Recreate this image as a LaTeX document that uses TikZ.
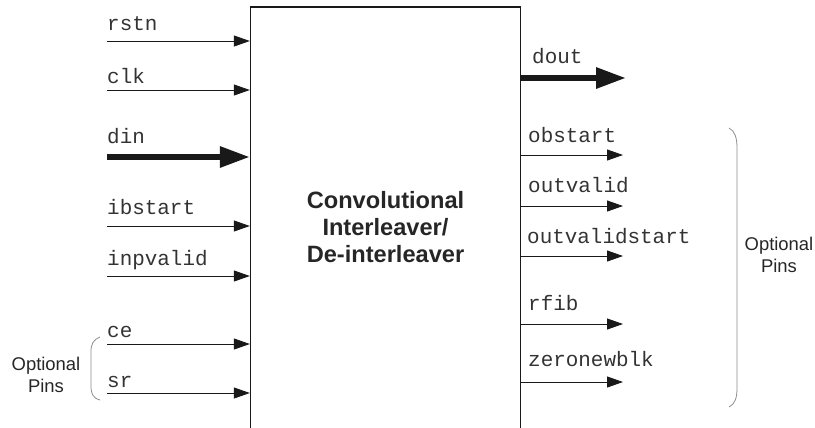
\documentclass[tikz,border=0pt]{standalone}
\usepackage{fontspec}
\setmainfont{Liberation Sans}
\setmonofont{Liberation Mono}
\usetikzlibrary{arrows.meta}
\tikzstyle{block} = [rectangle, draw=black!90, line width=1.3bp, minimum width=270bp, minimum height=440bp, align=center, font=\fontsize{23.7}{27.5}\selectfont\bfseries, text=black!85]
\tikzstyle{pinlabel} = [anchor=base west, inner sep=0pt, font=\fontsize{21}{24}\selectfont\ttfamily, text=black!80]
\tikzstyle{note} = [align=center, inner sep=0pt, font=\fontsize{18.5}{21.5}\selectfont, text=black!85]
\tikzstyle{pin} = [line width=0.9bp, draw=black!90, -{Triangle[length=16bp,width=11bp]}]
\tikzstyle{bus} = [line width=6bp, draw=black!90, -{Triangle[length=30bp,width=20bp]}]
\tikzstyle{brace} = [draw=black!45, line width=0.8bp]

\begin{document}
\begin{tikzpicture}[x=1bp, y=-1bp]
\clip (0,0) rectangle (815,427);

\node (block) [block] at (385.5,227) {Convolutional\\Interleaver/\\De-interleaver};

% inputs
\node (rstn) [pinlabel] at (107,30) {rstn};
\node (clk) [pinlabel] at (107,83) {clk};
\node (din) [pinlabel] at (107,143) {din};
\node (ibstart) [pinlabel] at (107,214) {ibstart};
\node (inpvalid) [pinlabel] at (107,265) {inpvalid};
\node (ce) [pinlabel] at (107,337) {ce};
\node (sr) [pinlabel] at (107,387) {sr};

\coordinate (rstn in) at (107,41);
\coordinate (clk in) at (107,90);
\coordinate (din in) at (107,157);
\coordinate (ibstart in) at (107,226);
\coordinate (inpvalid in) at (107,276);
\coordinate (ce in) at (107,344);
\coordinate (sr in) at (107,393);

\draw [pin] (rstn in) -- (rstn in -| block.west);
\draw [pin] (clk in) -- (clk in -| block.west);
\draw [bus] (din in) -- (din in -| block.west);
\draw [pin] (ibstart in) -- (ibstart in -| block.west);
\draw [pin] (inpvalid in) -- (inpvalid in -| block.west);
\draw [pin] (ce in) -- (ce in -| block.west);
\draw [pin] (sr in) -- (sr in -| block.west);

% outputs
\node (dout) [pinlabel] at (532,63) {dout};
\node (obstart) [pinlabel] at (528,142) {obstart};
\node (outvalid) [pinlabel] at (528,192) {outvalid};
\node (outvalidstart) [pinlabel] at (527,243) {outvalidstart};
\node (rfib) [pinlabel] at (528,310) {rfib};
\node (zeronewblk) [pinlabel] at (528,366) {zeronewblk};

\coordinate (dout out) at (626,78);
\coordinate (obstart out) at (623,155);
\coordinate (outvalid out) at (623,206);
\coordinate (outvalidstart out) at (623,256);
\coordinate (rfib out) at (623,324);
\coordinate (zeronewblk out) at (623,382);

\draw [bus] (dout out -| block.east) -- (dout out);
\draw [pin] (obstart out -| block.east) -- (obstart out);
\draw [pin] (outvalid out -| block.east) -- (outvalid out);
\draw [pin] (outvalidstart out -| block.east) -- (outvalidstart out);
\draw [pin] (rfib out -| block.east) -- (rfib out);
\draw [pin] (zeronewblk out -| block.east) -- (zeronewblk out);

% optional pin groups
\draw [brace] (100,337) .. controls (93,340) and (91,344) .. (91,352) -- (91,386) .. controls (91,394) and (93,398) .. (100,400);
\node (optleft) [note] at (46,375) {Optional\\Pins};
\draw [brace] (729,128) .. controls (735,131) and (737,138) .. (737,148) -- (737,388) .. controls (737,398) and (735,404) .. (729,407);
\node (optright) [note] at (779,255) {Optional\\Pins};

\end{tikzpicture}
\end{document}
